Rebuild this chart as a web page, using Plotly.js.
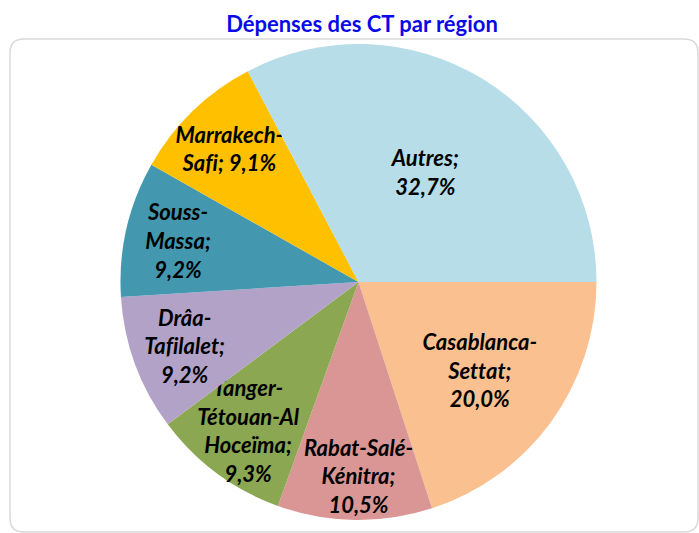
<!DOCTYPE html>
<html><head><meta charset="utf-8">
<script src="https://cdn.plot.ly/plotly-3.0.1.min.js"></script>
<style>html,body{margin:0;padding:0;background:#fff}#chart{width:699px;height:533px}#chart text{font-variant-ligatures:none;font-feature-settings:"liga" 0}</style>
</head><body><div id="chart"></div>
<script>
const regions = ["Casablanca-Settat","Rabat-Salé-Kénitra","Tanger-Tétouan-Al Hoceïma","Drâa-Tafilalet","Souss-Massa","Marrakech-Safi","Autres"];
const labelTexts = ["Casablanca-<br>Settat;<br>20,0%","Rabat-Salé-<br>Kénitra;<br>10,5%","Tanger-<br>Tétouan-Al<br>Hoceïma;<br>9,3%","Drâa-<br>Tafilalet;<br>9,2%","Souss-<br>Massa;<br>9,2%","Marrakech-<br>Safi; 9,1%","Autres;<br>32,7%"];
const shares = [20.0, 10.5, 9.3, 9.2, 9.2, 9.1, 32.7];
const colors = ["#FAC090","#D99694","#8BA752","#B3A2C7","#4398B0","#FFC000","#B7DDE8"];

const W = 699, H = 533;
const bx0 = 10/W, bx1 = 698/W, by1 = 1-39/H, by0 = 1-532/H;
const rx = 14/W, ry = 14/H;
const boxPath = `M ${bx0+rx},${by1} L ${bx1-rx},${by1} Q ${bx1},${by1} ${bx1},${by1-ry} L ${bx1},${by0+ry} Q ${bx1},${by0} ${bx1-rx},${by0} L ${bx0+rx},${by0} Q ${bx0},${by0} ${bx0},${by0+ry} L ${bx0},${by1-ry} Q ${bx0},${by1} ${bx0+rx},${by1} Z`;

const cx = 358.5, cy = 282, r = 238;
const data = [{
  type: "pie",
  labels: regions,
  values: shares,
  text: labelTexts,
  textinfo: "text",
  textposition: "inside",
  insidetextorientation: "horizontal",
  sort: false,
  direction: "clockwise",
  rotation: 90,
  marker: {colors: colors, line: {width: 0}},
  textfont: {family: "Lato, 'Open Sans', sans-serif", size: 22, color: "#000", weight: "bold", style: "italic"},
  domain: {x: [(cx-r)/W, (cx+r)/W], y: [(H-cy-r)/H, (H-cy+r)/H]},
  hoverinfo: "label+percent"
}];
const layout = {
  width: W, height: H,
  margin: {l:0, r:0, t:0, b:0},
  showlegend: false,
  paper_bgcolor: "#fff",
  uniformtext: {mode: "show", minsize: 22},
  title: {text: "Dépenses des CT par région", x: 362/W, xanchor: "center", y: 1-24/H, yanchor: "middle", yref: "container",
          font: {family: "Lato, sans-serif", size: 22, color: "#0A0AE8", weight: "bold"}},
  shapes: [{type: "path", xref: "paper", yref: "paper", path: boxPath, line: {color: "#D9D9D9", width: 1.5}, fillcolor: "rgba(0,0,0,0)", layer: "below"}]
};
Plotly.newPlot("chart", data, layout, {displayModeBar: false, staticPlot: true});
</script></body></html>
